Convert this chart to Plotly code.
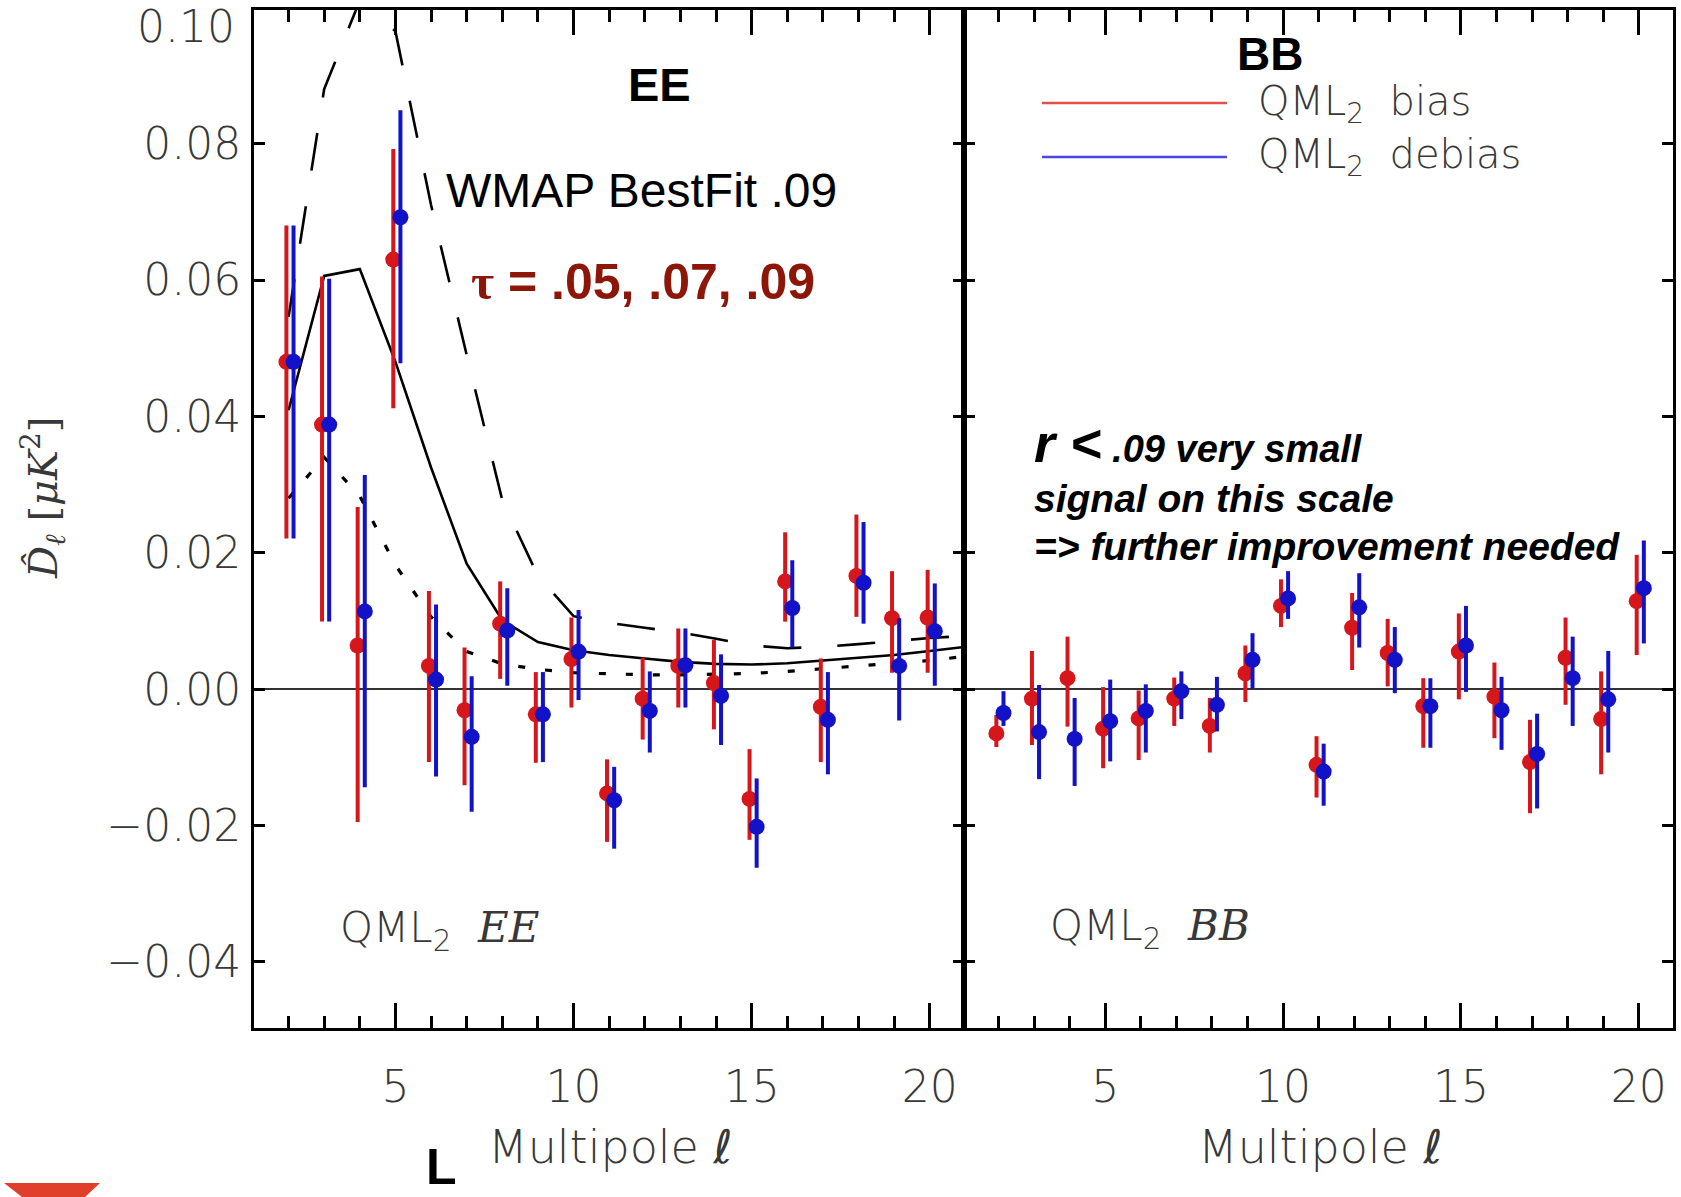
import numpy as np
import plotly.graph_objects as go

# ---------------- data ----------------
ell = [2, 3, 4, 5, 6, 7, 8, 9, 10, 11, 12, 13, 14, 15, 16, 17, 18, 19, 20]

# EE, QML2 bias (red)
ee_bias = [0.0480, 0.0388, 0.0064, 0.0630, 0.0034, -0.0031, 0.0096, -0.0037, 0.0044, -0.0153,
           -0.0014, 0.0034, 0.0009, -0.0161, 0.0158, -0.0026, 0.0166, 0.0104, 0.0105]
ee_bias_hi = [0.0680, 0.0605, 0.0267, 0.0792, 0.0144, 0.0061, 0.0158, 0.0025, 0.0105, -0.0103,
              0.0046, 0.0089, 0.0072, -0.0088, 0.0230, 0.0045, 0.0256, 0.0173, 0.0175]
ee_bias_lo = [0.0221, 0.0099, -0.0195, 0.0412, -0.0107, -0.0141, 0.0015, -0.0108, -0.0027, -0.0224,
              -0.0074, -0.0027, -0.0059, -0.0221, 0.0099, -0.0107, 0.0106, 0.0024, 0.0024]

# EE, QML2 debias (blue)
ee_debias = [0.0480, 0.0388, 0.0114, 0.0692, 0.0014, -0.0070, 0.0086, -0.0037, 0.0055, -0.0163,
             -0.0032, 0.0035, -0.0010, -0.0202, 0.0119, -0.0045, 0.0156, 0.0034, 0.0085]
ee_debias_hi = [0.0680, 0.0602, 0.0314, 0.0849, 0.0124, 0.0019, 0.0148, 0.0025, 0.0116, -0.0114,
                0.0026, 0.0089, 0.0051, -0.0131, 0.0189, 0.0025, 0.0245, 0.0104, 0.0155]
ee_debias_lo = [0.0221, 0.0099, -0.0144, 0.0478, -0.0128, -0.0180, 0.0005, -0.0107, -0.0016, -0.0234,
                -0.0093, -0.0027, -0.0082, -0.0262, 0.0061, -0.0125, 0.0096, -0.0046, 0.0005]

# BB, QML2 bias (red)
bb_bias = [-0.0065, -0.0014, 0.0016, -0.0058, -0.0043, -0.0014, -0.0054, 0.0023, 0.0122, -0.0111,
           0.0090, 0.0053, -0.0025, 0.0055, -0.0011, -0.0107, 0.0046, -0.0044, 0.0129]
bb_bias_hi = [-0.0038, 0.0056, 0.0077, 0.0003, -0.0002, 0.0017, -0.0013, 0.0064, 0.0161, -0.0069,
              0.0141, 0.0103, 0.0016, 0.0111, 0.0039, -0.0045, 0.0105, 0.0026, 0.0197]
bb_bias_lo = [-0.0085, -0.0082, -0.0055, -0.0116, -0.0104, -0.0054, -0.0093, -0.0019, 0.0091, -0.0159,
              0.0028, 0.0004, -0.0086, -0.0015, -0.0072, -0.0182, -0.0023, -0.0125, 0.0050]

# BB, QML2 debias (blue)
bb_debias = [-0.0035, -0.0063, -0.0073, -0.0047, -0.0032, -0.0003, -0.0023, 0.0043, 0.0133, -0.0121,
             0.0120, 0.0043, -0.0025, 0.0064, -0.0031, -0.0095, 0.0016, -0.0015, 0.0148]
bb_debias_hi = [-0.0003, 0.0006, -0.0013, 0.0014, 0.0007, 0.0026, 0.0018, 0.0082, 0.0173, -0.0080,
                0.0170, 0.0091, 0.0016, 0.0122, 0.0018, -0.0036, 0.0077, 0.0056, 0.0218]
bb_debias_lo = [-0.0054, -0.0132, -0.0142, -0.0106, -0.0093, -0.0044, -0.0062, 0.0001, 0.0103, -0.0171,
                0.0061, -0.0006, -0.0086, -0.0004, -0.0089, -0.0175, -0.0054, -0.0093, 0.0067]

# WMAP best-fit EE model curves, tau = .05 (dotted), .07 (solid), .09 (dashed)
ell_model = [2, 3, 4, 5, 6, 7, 8, 9, 10, 11, 12, 13, 14, 15, 16, 17, 18, 19, 20, 21]
model_tau05 = [0.0280, 0.0340, 0.0283, 0.0182, 0.0106, 0.0055, 0.0037, 0.0029, 0.0024, 0.0022,
               0.0021, 0.0021, 0.0022, 0.0023, 0.0026, 0.0030, 0.0033, 0.0037, 0.0042, 0.0048]
model_tau07 = [0.0409, 0.0606, 0.0616, 0.0480, 0.0325, 0.0184, 0.0101, 0.0069, 0.0057, 0.0050,
               0.0045, 0.0040, 0.0037, 0.0036, 0.0038, 0.0042, 0.0046, 0.0050, 0.0056, 0.0062]
model_tau09 = [0.0546, 0.0880, 0.1010, 0.0965, 0.0710, 0.0490, 0.0277, 0.0166, 0.0107, 0.0097,
               0.0090, 0.0083, 0.0074, 0.0064, 0.0060, 0.0062, 0.0066, 0.0071, 0.0075, 0.0078]

y_tickvals = [-0.04, -0.02, 0.00, 0.02, 0.04, 0.06, 0.08]
x_tickvals = [5, 10, 15, 20]

# ---------------- style ----------------
RED = "#d5161b"
BLUE = "#1212c8"
GREY = "#383838"
LIGHT = "DejaVu Sans"
TICKFONT = dict(family=LIGHT, size=44, color=GREY, weight=200)
W, H = 1681, 1197
ELL = "<span style='font-family:DejaVu Sans;font-weight:normal'>ℓ</span>"

ell_arr = np.array(ell, dtype=float)


def err(center, hi, lo):
    c = np.array(center)
    return dict(type="data", symmetric=False, array=np.array(hi) - c,
                arrayminus=c - np.array(lo), width=0, thickness=4)


fig = go.Figure()

# model curves (left panel)
fig.add_trace(go.Scatter(x=ell_model, y=model_tau09, mode="lines", xaxis="x", yaxis="y",
                         line=dict(color="black", width=2.6, dash="38px,36px"), showlegend=False))
fig.add_trace(go.Scatter(x=ell_model, y=model_tau07, mode="lines", xaxis="x", yaxis="y",
                         line=dict(color="black", width=2.6), showlegend=False))
fig.add_trace(go.Scatter(x=ell_model, y=model_tau05, mode="lines", xaxis="x", yaxis="y",
                         line=dict(color="black", width=3.2, dash="7px,20px"), showlegend=False))

panels = [("x", "y", ee_bias, ee_bias_hi, ee_bias_lo, ee_debias, ee_debias_hi, ee_debias_lo),
          ("x2", "y2", bb_bias, bb_bias_hi, bb_bias_lo, bb_debias, bb_debias_hi, bb_debias_lo)]
for xa, ya, rb, rbh, rbl, bd, bdh, bdl in panels:
    fig.add_trace(go.Scatter(x=ell_arr - 0.06, y=rb, mode="markers", xaxis=xa, yaxis=ya,
                             marker=dict(color=RED, size=16), error_y=dict(err(rb, rbh, rbl), color=RED),
                             name="QML<sub>2</sub> bias", showlegend=False))
    fig.add_trace(go.Scatter(x=ell_arr + 0.14, y=bd, mode="markers", xaxis=xa, yaxis=ya,
                             marker=dict(color=BLUE, size=16), error_y=dict(err(bd, bdh, bdl), color=BLUE),
                             name="QML<sub>2</sub> debias", showlegend=False))

xdom1 = [254 / W, 964 / W]
xdom2 = [964 / W, 1673 / W]
ydom = [1 - 1028 / H, 1 - 10 / H]
YR = [-0.0497, 0.0996]
XR = [1.03, 20.96]

common_x = dict(range=XR, tickvals=x_tickvals, ticks="inside", ticklen=25, tickwidth=3, tickcolor="black",
                showline=True, linewidth=3, linecolor="black", mirror="ticks", showgrid=False, zeroline=False,
                tickfont=TICKFONT, ticklabelstandoff=18,
                minor=dict(dtick=1, tick0=0, ticks="inside", ticklen=12, tickwidth=3, tickcolor="black",
                           showgrid=False))
common_y = dict(range=YR, tickvals=y_tickvals, ticks="inside", ticklen=11, tickwidth=3, tickcolor="black",
                showline=True, linewidth=3, linecolor="black", mirror="ticks", showgrid=False,
                zeroline=True, zerolinecolor="#333333", zerolinewidth=2, tickformat=".2f")

fig.update_layout(
    width=W, height=H, autosize=False,
    margin=dict(l=0, r=0, t=0, b=0),
    paper_bgcolor="white", plot_bgcolor="white",
    showlegend=False,
    xaxis=dict(common_x, domain=xdom1, anchor="y"),
    yaxis=dict(common_y, domain=ydom, anchor="x", tickfont=TICKFONT, ticklabelstandoff=1),
    xaxis2=dict(common_x, domain=xdom2, anchor="y2"),
    yaxis2=dict(common_y, domain=ydom, anchor="x2", showticklabels=False),
)

ann = []


def A(x, y, text, size, family="Liberation Sans", color="black", xanchor="center", yanchor="middle",
      weight="normal", **kw):
    ann.append(dict(x=x / W, y=1 - y / H, xref="paper", yref="paper", text=text, showarrow=False,
                    xanchor=xanchor, yanchor=yanchor,
                    font=dict(family=family, size=size, color=color, weight=weight), **kw))


A(237, 27, "0.10", 44, family=LIGHT, color=GREY, xanchor="right", weight=200)
A(659, 84, "<b>EE</b>", 47)
A(1270, 54, "<b>BB</b>", 46)
A(641, 191, "WMAP BestFit .09", 48)
A(643, 282, "<b><span style='font-family:Liberation Serif'>τ</span> = .05, .07, .09</b>", 50, color="#8c1608")
A(1032, 443, "<b><i><span style='font-size:54px'>r &lt;</span> .09 very small</i></b>", 38,
  xanchor="left")
A(1032, 499, "<b><i>signal on this scale</i></b>", 39, xanchor="left")
A(1032, 547, "<b><i>=&gt; further improvement needed</i></b>", 39, xanchor="left")
A(1256, 104, "QML<sub>2</sub>  bias", 40, family=LIGHT, color=GREY, xanchor="left", weight=200)
A(1256, 157, "QML<sub>2</sub>  debias", 40, family=LIGHT, color=GREY, xanchor="left", weight=200)
A(338, 930, "QML<sub>2</sub>  <span style='font-family:DejaVu Serif;font-weight:normal'><i>EE</i></span>", 42,
  family=LIGHT, color=GREY, xanchor="left", weight=200)
A(1048, 928, "QML<sub>2</sub>  <span style='font-family:DejaVu Serif;font-weight:normal'><i>BB</i></span>", 42,
  family=LIGHT, color=GREY, xanchor="left", weight=200)
A(610, 1147, "Multipole " + ELL, 46, family=LIGHT, color=GREY, weight=200)
A(1320, 1147, "Multipole " + ELL, 46, family=LIGHT, color=GREY, weight=200)
A(43, 498, "<i>D̂</i><sub><i>ℓ</i></sub> [<i>μK</i><sup>2</sup>]", 40, family="DejaVu Serif", color=GREY,
  textangle=-90)
ann.append(dict(x=441 / W, y=0, xref="paper", yref="paper", text="<b>L</b>", showarrow=False,
                xanchor="center", yanchor="bottom", font=dict(family="Liberation Sans", size=50, color="black")))
fig.update_layout(annotations=ann)

shapes = [
    dict(type="line", xref="paper", yref="paper", x0=1042 / W, x1=1227 / W, y0=1 - 103 / H, y1=1 - 103 / H,
         line=dict(color="#e0504d", width=2.5)),
    dict(type="line", xref="paper", yref="paper", x0=1042 / W, x1=1227 / W, y0=1 - 157 / H, y1=1 - 157 / H,
         line=dict(color="#4848e0", width=2.5)),
    dict(type="path", xref="paper", yref="paper",
         path=f"M {4 / W},{1 - 1183 / H} L {100 / W},{1 - 1183 / H} L {85 / W},0 L {22 / W},0 Z",
         fillcolor="#e0402a", line=dict(width=0)),
]
fig.update_layout(shapes=shapes)

fig.write_html("out.html", config={"displayModeBar": False},
               post_script="document.body.style.margin='0px';")
